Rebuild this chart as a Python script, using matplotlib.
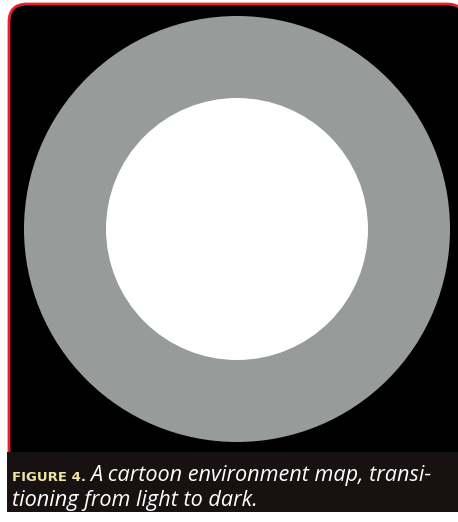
import matplotlib
matplotlib.use("Agg")
import matplotlib.pyplot as plt
from matplotlib.patches import Circle, FancyBboxPatch, Rectangle

# ---- data ----
ring_radii = [213, 131]               # outer gray disc, inner white disc (px)
ring_colors = ["#979b9a", "#ffffff"]
ring_center = (237, 229)
caption_label = "FIGURE 4."
caption_line1 = "A cartoon environment map, transi-"
caption_line2 = "tioning from light to dark."

W, H = 458, 522
fig = plt.figure(figsize=(W / 100, H / 100), dpi=100)
fig.patch.set_facecolor("white")
ax = fig.add_axes([0, 0, 1, 1])
ax.set_xlim(0, W)
ax.set_ylim(H, 0)
ax.set_axis_off()

# black panel with red rounded border
panel = FancyBboxPatch((9, 4), 456, 500, boxstyle="round,pad=0,rounding_size=18",
                       facecolor="black", edgecolor="#e8202a", linewidth=2.0, zorder=1)
ax.add_patch(panel)

# rings
for r, c in zip(ring_radii, ring_colors):
    ax.add_patch(Circle(ring_center, r, facecolor=c, edgecolor="none", zorder=2))

# caption band
ax.add_patch(Rectangle((7, 452), W, 60, facecolor="#171111", edgecolor="none", zorder=3))

ax.text(12, 481, caption_label, color="#efe4a5", fontsize=9.5, fontweight="bold",
        family=["DejaVu Sans"], va="baseline", ha="left", zorder=4)
ax.text(90, 481, caption_line1, color="white", fontsize=15.6, style="italic",
        family=["Open Sans", "DejaVu Sans"], va="baseline", ha="left", zorder=4)
ax.text(12, 506, caption_line2, color="white", fontsize=15.6, style="italic",
        family=["Open Sans", "DejaVu Sans"], va="baseline", ha="left", zorder=4)

fig.savefig("out.png", dpi=100, facecolor="white")
